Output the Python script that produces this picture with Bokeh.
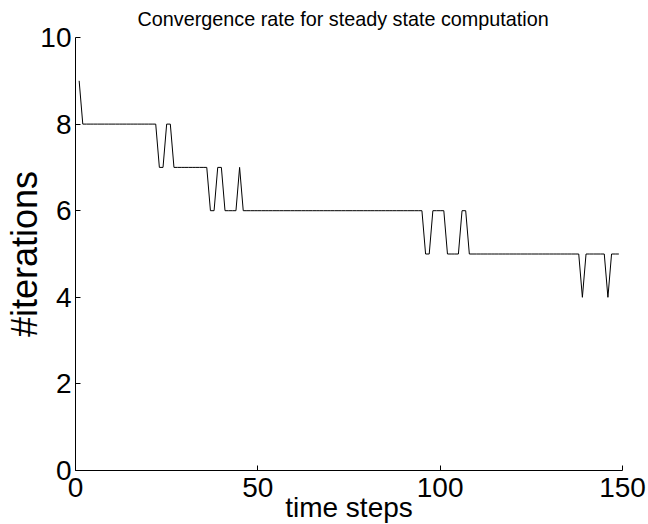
from bokeh.plotting import figure
from bokeh.models import Range1d, FixedTicker
from bokeh.embed import file_html
from bokeh.resources import INLINE

time_steps = list(range(1, 150))
iterations = [
    9, 8, 8, 8, 8, 8, 8, 8, 8, 8,
    8, 8, 8, 8, 8, 8, 8, 8, 8, 8,
    8, 8, 7, 7, 8, 8, 7, 7, 7, 7,
    7, 7, 7, 7, 7, 7, 6, 6, 7, 7,
    6, 6, 6, 6, 7, 6, 6, 6, 6, 6,
    6, 6, 6, 6, 6, 6, 6, 6, 6, 6,
    6, 6, 6, 6, 6, 6, 6, 6, 6, 6,
    6, 6, 6, 6, 6, 6, 6, 6, 6, 6,
    6, 6, 6, 6, 6, 6, 6, 6, 6, 6,
    6, 6, 6, 6, 6, 5, 5, 6, 6, 6,
    6, 5, 5, 5, 5, 6, 6, 5, 5, 5,
    5, 5, 5, 5, 5, 5, 5, 5, 5, 5,
    5, 5, 5, 5, 5, 5, 5, 5, 5, 5,
    5, 5, 5, 5, 5, 5, 5, 5, 4, 5,
    5, 5, 5, 5, 5, 4, 5, 5, 5,
]
x_ticks = [0, 50, 100, 150]
y_ticks = [0, 2, 4, 6, 8, 10]

FONT = "Liberation Sans"

p = figure(frame_width=547, frame_height=433, output_backend="svg", toolbar_location=None,
           x_range=Range1d(0, 150), y_range=Range1d(0, 10),
           title="Convergence rate for steady state computation",
           min_border_left=75, min_border_right=26,
           min_border_top=37, min_border_bottom=50)

p.line(time_steps, iterations, line_color="black", line_width=1)

p.grid.visible = False
p.outline_line_color = None
p.background_fill_color = "white"
p.border_fill_color = "white"

p.title.text_font = FONT
p.title.text_font_size = "19.8px"
p.title.text_font_style = "normal"
p.title.text_color = "black"
p.title.align = "left"
p.title.offset = 62
p.title.vertical_align = "top"
p.title.standoff = 11

for ax in (p.xaxis[0], p.yaxis[0]):
    ax.major_tick_in = 5
    ax.major_tick_out = 0
    ax.minor_tick_in = 0
    ax.minor_tick_out = 0
    ax.axis_line_color = "black"
    ax.major_tick_line_color = "black"
    ax.major_label_text_font = FONT
    ax.major_label_text_font_size = "28px"
    ax.major_label_text_color = "black"
    ax.axis_label_text_font = FONT
    ax.axis_label_text_font_style = "normal"
    ax.axis_label_text_color = "black"

p.xaxis.axis_label_text_font_size = "28px"
p.yaxis.axis_label_text_font_size = "36px"
p.xaxis.ticker = FixedTicker(ticks=x_ticks)
p.yaxis.ticker = FixedTicker(ticks=y_ticks)
p.xaxis.axis_label = "time steps"
p.yaxis.axis_label = "#iterations"
p.xaxis.major_label_standoff = 7
p.yaxis.major_label_standoff = 4
p.xaxis.axis_label_standoff = -8
p.yaxis.axis_label_standoff = -8

open("out.html", "w").write(file_html(p, INLINE))
